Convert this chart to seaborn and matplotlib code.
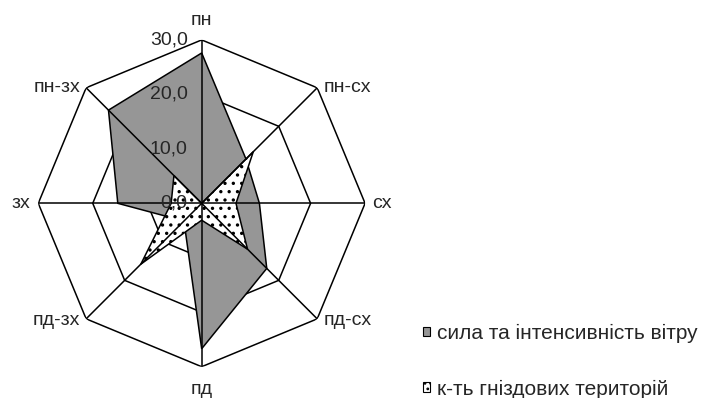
import numpy as np
import matplotlib
matplotlib.use("Agg")
import matplotlib.pyplot as plt
from matplotlib.patches import Patch
import seaborn as sns

# Wind directions (compass points, clockwise from north)
directions = ["пн", "пн-сх", "сх", "пд-сх", "пд", "пд-зх", "зх", "пн-зх"]
wind_strength = [27.6, 11.5, 10.6, 16.9, 26.7, 4.6, 15.4, 24.2]
nest_territories = [0.0, 13.4, 6.3, 11.9, 3.1, 15.8, 5.6, 7.2]
ring_values = [0, 10, 20, 30]
ring_labels = ["0,0", "10,0", "20,0", "30,0"]
series_names = ["сила та інтенсивність вітру", "к-ть гніздових територій"]

sns.set_style("white")
plt.rcParams["font.family"] = ["Liberation Sans", "DejaVu Sans"]
plt.rcParams["hatch.linewidth"] = 1.2
plt.rcParams["hatch.color"] = "#444444"

GRAY = "#969696"
FS = 14
LEGEND_FS = 15

fig = plt.figure(figsize=(7.01, 3.98), dpi=100)
ax = fig.add_axes([0.0546, 0.0786, 0.4662, 0.8211], projection="polar")
ax.set_theta_zero_location("N")
ax.set_theta_direction(-1)
ax.set_ylim(0, 30)
ax.grid(False)
ax.spines["polar"].set_visible(False)
ax.set_xticks([])
ax.set_yticks([])
ax.patch.set_visible(False)

angles = np.linspace(0, 2 * np.pi, len(directions), endpoint=False)
closed_angles = np.append(angles, angles[0])


def closed(values):
    return list(values) + [values[0]]


# octagonal value rings (behind the series)
for r in ring_values[1:]:
    ax.plot(closed_angles, [r] * len(closed_angles), color="black", lw=1.1, zorder=1)

# filled series
ax.fill(closed_angles, closed(wind_strength), facecolor=GRAY,
        edgecolor="black", lw=1.1, zorder=2)
ax.fill(closed_angles, closed(nest_territories), facecolor="white",
        edgecolor="black", hatch="..", lw=1.1, zorder=3)

# spokes drawn over the fills
for a in angles:
    ax.plot([a, a], [0, ring_values[-1]], color="black", lw=1.1, zorder=4)

# value labels along the north spoke
for v, lab in zip(ring_values, ring_labels):
    ax.annotate(lab, xy=(0, v), xytext=(-14, 0), textcoords="offset pixels",
                ha="right", va="center", fontsize=FS, zorder=6)

# direction labels around the outer ring
label_layout = {
    "пн": ((0, 19), "center"),
    "пн-сх": ((6, 0), "left"),
    "сх": ((7, 0), "left"),
    "пд-сх": ((6, -2), "left"),
    "пд": ((0, -23), "center"),
    "пд-зх": ((-6, -2), "right"),
    "зх": ((-8, 0), "right"),
    "пн-зх": ((-6, 0), "right"),
}
for a, name in zip(angles, directions):
    offset, ha = label_layout[name]
    ax.annotate(name, xy=(a, ring_values[-1]), xytext=offset,
                textcoords="offset pixels", ha=ha, va="center",
                fontsize=FS, annotation_clip=False)

handles = [
    Patch(facecolor=GRAY, edgecolor="black", lw=0.8),
    Patch(facecolor="white", edgecolor="black", hatch="...", lw=0.8),
]
fig.legend(handles, series_names, loc="upper left",
           bbox_to_anchor=(423 / 701, 1 - 324 / 398), frameon=False,
           fontsize=LEGEND_FS, handlelength=0.34, handleheight=0.34,
           handletextpad=0.35, labelspacing=1.75, borderpad=0, borderaxespad=0)

fig.savefig("out.png", dpi=100)
